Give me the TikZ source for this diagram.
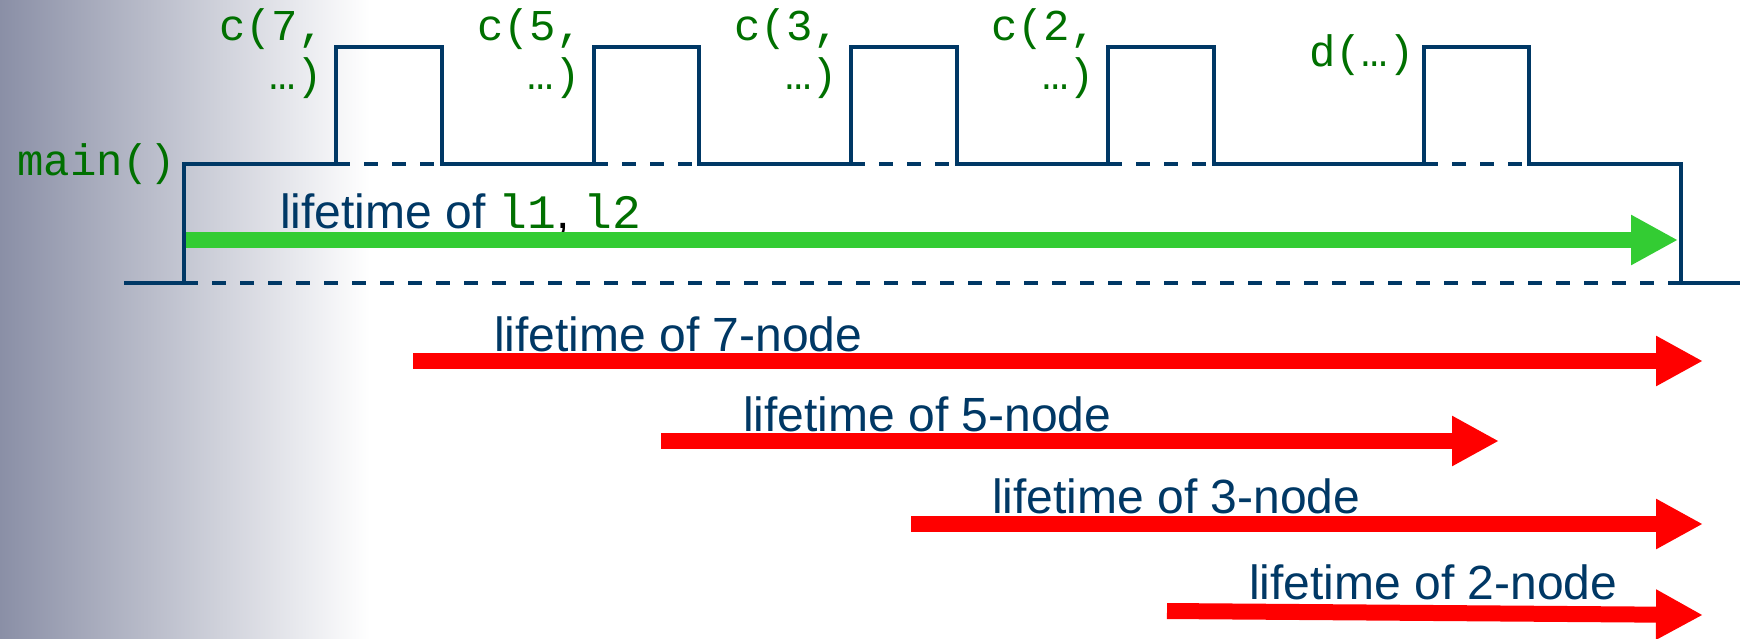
\documentclass[tikz,border=0pt]{standalone}
\usepackage{fontspec}
\setmainfont{Liberation Sans}
\setmonofont{Liberation Mono}
\usetikzlibrary{arrows.meta}
\definecolor{navy}{RGB}{0,56,101}
\definecolor{codegreen}{RGB}{0,112,0}
\definecolor{lgreen}{RGB}{51,204,51}
\definecolor{bgL}{RGB}{138,143,166}
\begin{document}
\begin{tikzpicture}[x=1pt,y=-1pt,
  stepline/.style={draw=navy,line width=3.5pt},
  dashline/.style={draw=navy,line width=3.5pt,dash pattern=on 14pt off 14pt},
  lbl/.style={font=\fontsize{48}{56}\selectfont,text=navy,inner sep=0pt,anchor=base west},
  code/.style={font=\ttfamily\fontsize{44}{49}\selectfont,text=codegreen,inner sep=0pt,anchor=base east},
  life/.style={line width=16pt,-{Triangle[length=47pt,width=47pt]}},
  redarrow/.style={life,draw=red},
  greenarrow/.style={life,draw=lgreen}]
\useasboundingbox (0,0) rectangle (1740,638);
\shade[left color=bgL,right color=white,draw=none] (0,0) rectangle (370,638);
\fill[white] (370,0) rectangle (1740,638);

% step line (call stack)
\draw[stepline] (124,283) -- (184,283) -- (184,164)
  -- (336,164) -- (336,47) -- (442,47) -- (442,164)
  -- (594,164) -- (594,47) -- (699,47) -- (699,164)
  -- (851,164) -- (851,47) -- (957,47) -- (957,164)
  -- (1108,164) -- (1108,47) -- (1214,47) -- (1214,164)
  -- (1424,164) -- (1424,47) -- (1529,47) -- (1529,164)
  -- (1681,164) -- (1681,283) -- (1740,283);
\draw[dashline] (184,283) -- (1681,283);
\draw[dashline] (336,164) -- (442,164);
\draw[dashline] (594,164) -- (699,164);
\draw[dashline] (851,164) -- (957,164);
\draw[dashline] (1108,164) -- (1214,164);
\draw[dashline] (1424,164) -- (1529,164);

% code labels
\node[code] (main) at (176,175) {main()};
\node[code] (c7a) at (325,40) {c(7,};
\node[code] (c7b) at (323,89) {…)};
\node[code] (c5a) at (583,40) {c(5,};
\node[code] (c5b) at (581,89) {…)};
\node[code] (c3a) at (840,40) {c(3,};
\node[code] (c3b) at (838,89) {…)};
\node[code] (c2a) at (1097,40) {c(2,};
\node[code] (c2b) at (1095,89) {…)};
\node[code] (d) at (1415,66) {d(…)};

% lifetime of l1, l2
\node[lbl] (ll) at (280,228) {lifetime of {\ttfamily\color{codegreen}l1}{\color{black},} {\ttfamily\color{codegreen}l2}};
\coordinate (gs) at (186,240);
\coordinate (ge) at (1678,240);
\draw[greenarrow] (gs) -- (ge);

% red lifetimes
\node[lbl] (l7) at (494,351) {lifetime of 7-node};
\coordinate (r7s) at (413,361);
\coordinate (r7e) at (1703,361);
\draw[redarrow] (r7s) -- (r7e);

\node[lbl] (l5) at (743,431) {lifetime of 5-node};
\coordinate (r5s) at (661,441);
\coordinate (r5e) at (1499,441);
\draw[redarrow] (r5s) -- (r5e);

\node[lbl] (l3) at (992,513) {lifetime of 3-node};
\coordinate (r3s) at (911,524);
\coordinate (r3e) at (1703,524);
\draw[redarrow] (r3s) -- (r3e);

\node[lbl] (l2) at (1249,599) {lifetime of 2-node};
\coordinate (r2s) at (1167,611);
\coordinate (r2e) at (1703,615);
\draw[redarrow] (r2s) -- (r2e);
\end{tikzpicture}
\end{document}
